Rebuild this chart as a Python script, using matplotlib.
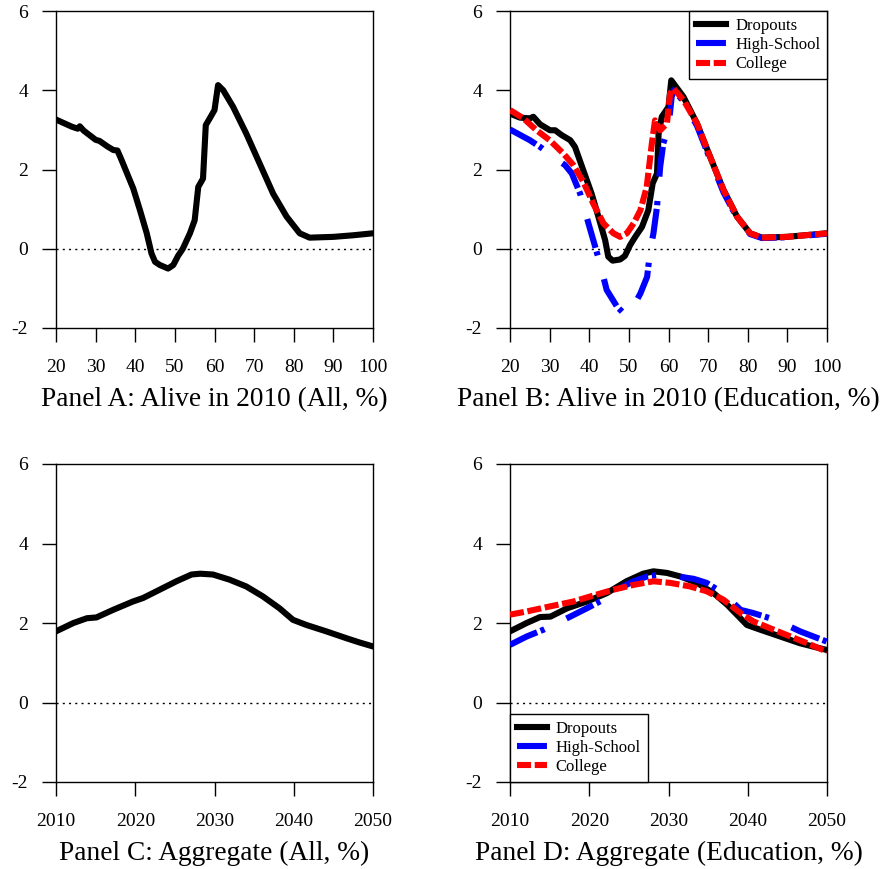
import matplotlib
matplotlib.use("Agg")
import matplotlib.pyplot as plt

plt.rcParams['font.family'] = ['Liberation Serif', 'DejaVu Serif']

# Panel A: all, by age alive in 2010
age_a = [20, 22, 24, 25.5, 26, 27, 30, 31, 33, 34.5, 35.5, 36.5, 39.5, 41.2, 42.9, 44.1, 45,
         46.2, 48.3, 49.6, 50.8, 52, 53.8, 55, 55.9, 57.1, 57.8, 58.8, 60, 60.9, 62.2, 64.7,
         68, 71.4, 74.8, 78.2, 81.5, 84, 90, 95, 100]
val_a = [3.26, 3.17, 3.08, 3.03, 3.09, 2.98, 2.75, 2.72, 2.58, 2.49, 2.48, 2.25, 1.52, 0.97,
         0.39, -0.12, -0.33, -0.41, -0.5, -0.41, -0.18, 0.0, 0.39, 0.72, 1.56, 1.77, 3.12, 3.29,
         3.5, 4.13, 4.0, 3.58, 2.91, 2.15, 1.39, 0.81, 0.39, 0.28, 0.3, 0.34, 0.39]

# Panel B: by education
age_drop = [20, 22.5, 25, 25.9, 27.6, 30.1, 31.4, 33, 35.2, 36.4, 38.5, 40.6, 42.3, 44, 44.8,
            45.9, 47.8, 49, 50.3, 51.6, 53.3, 54.9, 56, 57.1, 57.5, 58.3, 60, 60.7, 63.8, 67.2,
            70.5, 73.9, 77.3, 80.6, 83.6, 89.9, 100]
val_drop = [3.41, 3.31, 3.29, 3.33, 3.14, 2.99, 2.99, 2.87, 2.74, 2.57, 1.98, 1.39, 0.81, 0.22,
            -0.2, -0.3, -0.27, -0.18, 0.09, 0.3, 0.55, 0.97, 1.65, 1.9, 2.9, 3.33, 3.58, 4.25,
            3.83, 3.16, 2.32, 1.48, 0.81, 0.39, 0.28, 0.3, 0.39]
age_hs = [20, 25, 27.6, 30.9, 33.9, 35.6, 37.7, 39.8, 41.5, 42.7, 44.4, 47, 48.7, 50.4, 52.9,
          54.6, 55.4, 56.2, 57.1, 57.9, 58.7, 60, 60.8, 61.3, 63.8, 67.2, 70.5, 73.9, 77.3,
          80.6, 83.6, 89.9, 100]
val_hs = [3.01, 2.74, 2.57, 2.32, 2.11, 1.9, 1.39, 0.64, 0.05, -0.37, -1.04, -1.46, -1.63,
          -1.59, -1.13, -0.71, -0.03, 0.39, 1.06, 2.07, 2.66, 3.08, 3.83, 4.0, 3.72, 3.1, 2.26,
          1.42, 0.78, 0.37, 0.27, 0.29, 0.38]
age_col = [20, 23.4, 26.7, 30, 33.5, 36, 38.5, 41, 43.6, 46.1, 47.8, 49.5, 51.2, 52.9, 54.5,
           55.8, 56.6, 57.9, 59.6, 60.4, 61.3, 63.8, 67.2, 70.5, 73.9, 77.3, 80.6, 83.6, 89.9,
           100]
val_col = [3.5, 3.29, 2.99, 2.74, 2.4, 2.11, 1.69, 1.14, 0.64, 0.39, 0.3, 0.39, 0.64, 0.97,
           1.56, 2.66, 3.24, 2.99, 3.16, 3.92, 4.04, 3.75, 3.16, 2.32, 1.48, 0.81, 0.39, 0.28,
           0.3, 0.39]

# Panel C: aggregate, all
yr_c = [2010, 2012.2, 2013.9, 2015.1, 2017.2, 2019.7, 2021, 2023.1, 2025.2, 2027.1, 2028.2,
        2029.8, 2031.9, 2034, 2036.1, 2038.2, 2039.9, 2041.6, 2044.1, 2046.6, 2048.3, 2050]
val_c = [1.79, 2.0, 2.12, 2.14, 2.33, 2.54, 2.63, 2.84, 3.05, 3.22, 3.24, 3.22, 3.09, 2.92,
         2.67, 2.37, 2.08, 1.95, 1.79, 1.62, 1.51, 1.41]

# Panel D: aggregate, by education
yr_drop = [2010, 2012.1, 2013.8, 2015.1, 2017.2, 2019.7, 2022.2, 2024.7, 2026.8, 2028.1,
           2029.8, 2031.5, 2033.6, 2035.7, 2037.4, 2039.9, 2041.6, 2044.1, 2046.6, 2050]
agg_drop = [1.79, 2.0, 2.15, 2.16, 2.37, 2.54, 2.75, 3.05, 3.24, 3.3, 3.26, 3.17, 3.01, 2.75,
            2.46, 1.95, 1.83, 1.66, 1.49, 1.32]
yr_hs = [2010, 2012.1, 2014.2, 2017.6, 2019.7, 2021.8, 2023.9, 2025.6, 2027.3, 2029, 2030.6,
         2033.2, 2034.8, 2036.9, 2039.1, 2040.7, 2042.8, 2044.9, 2046.6, 2048.3, 2050]
agg_hs = [1.45, 1.66, 1.83, 2.16, 2.37, 2.59, 2.88, 3.05, 3.17, 3.22, 3.19, 3.11, 3.01, 2.75,
          2.33, 2.25, 2.12, 1.95, 1.79, 1.66, 1.53]
yr_col = [2010, 2012.1, 2015.1, 2018, 2020.5, 2023.1, 2025.6, 2028.1, 2030.2, 2032.7, 2034.8,
          2036.9, 2039.1, 2040.7, 2042.8, 2044.9, 2047.5, 2050]
agg_col = [2.21, 2.29, 2.42, 2.54, 2.69, 2.84, 2.96, 3.05, 3.01, 2.92, 2.8, 2.59, 2.25, 2.04,
           1.87, 1.7, 1.49, 1.28]

titles = ["Panel A: Alive in 2010 (All, %)", "Panel B: Alive in 2010 (Education, %)",
          "Panel C: Aggregate (All, %)", "Panel D: Aggregate (Education, %)"]
labels = ["Dropouts", "High-School", "College"]

LW = 4.4
dashdot = (0, (4.9, 0.6, 0.7, 4.0))
dashed = (0, (2.3, 0.6))

fig = plt.figure(figsize=(8.83, 8.69), dpi=100)
W, H = 883.0, 869.0
boxes = [(56, 11, 373, 328), (510, 11, 827, 328), (56, 464, 373, 782), (510, 464, 827, 782)]
axes = []
for (x0, y0, x1, y1) in boxes:
    ax = fig.add_axes([x0 / W, 1 - y1 / H, (x1 - x0) / W, (y1 - y0) / H])
    axes.append(ax)


def style(ax, xlim, xticks, title):
    ax.set_xlim(*xlim)
    ax.set_ylim(-2, 6)
    ax.set_xticks(xticks)
    ax.set_yticks([-2, 0, 2, 4, 6])
    ax.set_yticklabels(["-2", "0", "2", "4", "6"])
    ax.tick_params(direction='out', length=10, width=1, labelsize=14, top=False, right=False)
    ax.tick_params(axis='x', pad=12)
    ax.tick_params(axis='y', pad=10)
    for s in ax.spines.values():
        s.set_linewidth(1)
    ax.axhline(0, color='black', lw=1, linestyle=(0, (1.5, 3)), zorder=1)
    ax.set_xlabel(title, fontsize=19.7, labelpad=8)


def legend(ax, loc):
    leg = ax.legend(loc=loc, fontsize=12, frameon=True, fancybox=False, borderaxespad=0,
                    handlelength=1.8, handletextpad=0.55, labelspacing=0.2, borderpad=0.4)
    leg.get_frame().set_edgecolor('black')
    leg.get_frame().set_linewidth(1)
    leg.get_frame().set_alpha(1)


ax = axes[0]
ax.plot(age_a, val_a, color='black', lw=LW, zorder=3)
style(ax, (20, 100), range(20, 101, 10), titles[0])

ax = axes[1]
ax.plot(age_drop, val_drop, color='black', lw=LW, label=labels[0], zorder=3)
ax.plot(age_hs, val_hs, color='blue', lw=LW, linestyle=dashdot, label=labels[1], zorder=3)
ax.plot(age_col, val_col, color='red', lw=LW, linestyle=dashed, label=labels[2], zorder=3)
style(ax, (20, 100), range(20, 101, 10), titles[1])
legend(ax, 'upper right')

ax = axes[2]
ax.plot(yr_c, val_c, color='black', lw=LW, zorder=3)
style(ax, (2010, 2050), range(2010, 2051, 10), titles[2])

ax = axes[3]
ax.plot(yr_drop, agg_drop, color='black', lw=LW, label=labels[0], zorder=3)
ax.plot(yr_hs, agg_hs, color='blue', lw=LW, linestyle=dashdot, label=labels[1], zorder=3)
ax.plot(yr_col, agg_col, color='red', lw=LW, linestyle=dashed, label=labels[2], zorder=3)
style(ax, (2010, 2050), range(2010, 2051, 10), titles[3])
legend(ax, 'lower left')

fig.savefig("out.png", dpi=100)
